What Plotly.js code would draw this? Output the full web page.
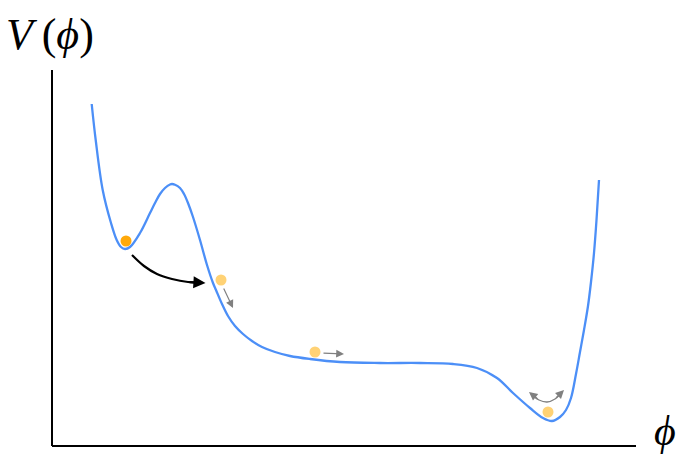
<!DOCTYPE html>
<html>
<head>
<meta charset="utf-8">
<script src="https://cdn.plot.ly/plotly-3.0.1.min.js"></script>
<style>html,body{margin:0;padding:0;background:#fff;}#chart{width:678px;height:464px;}</style>
</head>
<body>
<div id="chart"></div>
<script>
// Potential curve V(phi)
const phi = [0.397,0.437,0.507,0.59,0.647,0.69,0.73,0.78,0.88,0.98,1.03,1.08,1.13,1.18,1.20,1.23,1.28,1.32,1.36,1.41,1.48,1.55,1.61,1.64,1.70,1.76,1.83,1.91,2.00,2.10,2.23,2.38,2.58,2.88,3.28,3.68,4.01,4.25,4.45,4.61,4.78,4.91,5.00,5.08,5.14,5.19,5.24,5.28,5.32,5.36,5.39,5.42,5.445,5.47];
const V   = [3.42,3.06,2.56,2.23,2.06,1.99,1.97,1.99,2.13,2.33,2.43,2.52,2.58,2.615,2.62,2.613,2.58,2.52,2.43,2.29,2.06,1.81,1.63,1.56,1.42,1.30,1.20,1.12,1.05,0.99,0.94,0.90,0.87,0.84,0.83,0.83,0.82,0.78,0.68,0.53,0.38,0.28,0.25,0.29,0.36,0.48,0.72,0.94,1.16,1.40,1.64,1.93,2.26,2.66];

// Balls
const ballPhi = [0.74, 1.69, 2.63, 4.96];
const ballV   = [2.05, 1.66, 0.94, 0.34];
const ballColor = ['#FFA90A', '#FFD275', '#FFD275', '#FFD275'];

// Tunnelling arrow (black, curved)
const tunnelPhi = [0.80, 0.92, 1.05, 1.20, 1.36, 1.48];
const tunnelV   = [1.91, 1.80, 1.72, 1.67, 1.64, 1.635];
// Oscillation arrow (grey, curved)
const oscPhi = [4.79, 4.87, 4.95, 5.03, 5.10];
const oscV   = [0.52, 0.46, 0.44, 0.47, 0.54];
// Straight grey arrows: [tailPhi, tailV, headPhi, headV]
const rollArrows = [
  [1.71, 1.59, 1.81, 1.38],
  [2.70, 0.93, 2.92, 0.92]
];

// Axis extents
const axisPhiMax = 5.84;
const axisVMax = 3.76;

const curveColor = '#4C8FF7';

const traces = [
  {x: phi, y: V, mode: 'lines', line: {color: curveColor, width: 2.3, shape: 'spline', smoothing: 1}, hoverinfo: 'skip'},
  {x: tunnelPhi, y: tunnelV, mode: 'lines', line: {color: '#000', width: 2.2, shape: 'spline'}, hoverinfo: 'skip'},
  {x: oscPhi, y: oscV, mode: 'lines', line: {color: '#808080', width: 1.3, shape: 'spline'}, hoverinfo: 'skip'},
  {x: ballPhi, y: ballV, mode: 'markers', marker: {color: ballColor, size: 11, line: {width: 0}}, hoverinfo: 'skip'}
];

const annotations = [
  {x: -0.02, y: 4.12, xref: 'x', yref: 'y', text: '<i>V</i>\u2009(<i>ϕ</i>)', showarrow: false,
   font: {family: 'Liberation Serif', size: 44, color: '#000'}, xanchor: 'center', yanchor: 'middle'},
  {x: 6.13, y: 0.15, xref: 'x', yref: 'y', text: '<i>ϕ</i>', showarrow: false,
   font: {family: 'Liberation Serif', size: 42, color: '#000'}, xanchor: 'center', yanchor: 'middle'},
  // black arrow head
  {x: tunnelPhi[tunnelPhi.length-1] + 0.055, y: tunnelV[tunnelV.length-1] - 0.005, ax: tunnelPhi[tunnelPhi.length-2], ay: tunnelV[tunnelV.length-2],
   xref: 'x', yref: 'y', axref: 'x', ayref: 'y', text: '', showarrow: true, arrowhead: 2, arrowsize: 1.1, arrowwidth: 2.2, arrowcolor: '#000'},
  // osc arrow heads
  {x: oscPhi[0] - 0.02, y: oscV[0] + 0.02, ax: oscPhi[1], ay: oscV[1], xref: 'x', yref: 'y', axref: 'x', ayref: 'y',
   text: '', showarrow: true, arrowhead: 2, arrowsize: 1.3, arrowwidth: 1.3, arrowcolor: '#808080'},
  {x: oscPhi[oscPhi.length-1] + 0.02, y: oscV[oscV.length-1] + 0.02, ax: oscPhi[oscPhi.length-2], ay: oscV[oscV.length-2], xref: 'x', yref: 'y', axref: 'x', ayref: 'y',
   text: '', showarrow: true, arrowhead: 2, arrowsize: 1.3, arrowwidth: 1.3, arrowcolor: '#808080'}
];
rollArrows.forEach(a => annotations.push({
  x: a[2], y: a[3], ax: a[0], ay: a[1], xref: 'x', yref: 'y', axref: 'x', ayref: 'y',
  text: '', showarrow: true, arrowhead: 2, arrowsize: 1.3, arrowwidth: 1.2, arrowcolor: '#808080'
}));

const layout = {
  width: 678, height: 464,
  margin: {l: 0, r: 0, t: 0, b: 0},
  paper_bgcolor: '#fff', plot_bgcolor: '#fff',
  showlegend: false,
  xaxis: {range: [-0.52, 6.26], visible: false, fixedrange: true},
  yaxis: {range: [-0.18, 4.46], visible: false, fixedrange: true},
  shapes: [
    {type: 'line', xref: 'x', yref: 'y', x0: 0, x1: 0, y0: 0, y1: axisVMax, line: {color: '#000', width: 2}},
    {type: 'line', xref: 'x', yref: 'y', x0: 0, x1: axisPhiMax, y0: 0, y1: 0, line: {color: '#000', width: 2}}
  ],
  annotations: annotations
};

Plotly.newPlot('chart', traces, layout, {displayModeBar: false, staticPlot: true});
</script>
</body>
</html>
